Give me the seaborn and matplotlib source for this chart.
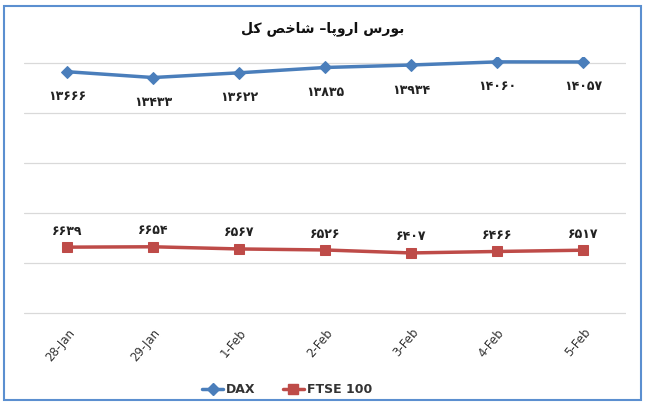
import matplotlib
matplotlib.use("Agg")
import matplotlib.pyplot as plt
from matplotlib.patches import Rectangle
from matplotlib.lines import Line2D
import seaborn as sns
import pandas as pd

# chart data
dates = ["28-Jan", "29-Jan", "1-Feb", "2-Feb", "3-Feb", "4-Feb", "5-Feb"]
dax = [13666, 13433, 13622, 13835, 13934, 14060, 14057]
ftse = [6639, 6654, 6567, 6526, 6407, 6466, 6517]
grid_values = [4000, 6000, 8000, 10000, 12000, 14000]

# "بورس اروپا– شاخص کل" written with presentation forms, then reversed
# because matplotlib has no RTL shaping of its own
title_logical = ("\uFE91\uFEEE\uFEAD\uFEB1 \uFE8D\uFEAD\uFEED\uFB58\uFE8E\u2013 "
                 "\uFEB7\uFE8E\uFEA7\uFEBA \uFB90\uFEDE")
title_text = title_logical[::-1]

persian_digits = str.maketrans("0123456789", "۰۱۲۳۴۵۶۷۸۹")


def fa(n):
    return str(n).translate(persian_digits)


df = pd.DataFrame({"date": dates, "x": range(len(dates)), "DAX": dax, "FTSE 100": ftse})

sns.set_style("white")
plt.rcParams["font.family"] = ["DejaVu Sans"]

fig = plt.figure(figsize=(6.52, 4.04), dpi=100)
ax = fig.add_axes([0.037, 0.2202, 0.923, 0.639])

dax_color = "#4A7EBB"
ftse_color = "#BE4B48"

sns.lineplot(data=df, x="x", y="DAX", ax=ax, color=dax_color, lw=2.5,
             marker="D", markersize=6, markeredgecolor=dax_color, zorder=3)
sns.lineplot(data=df, x="x", y="FTSE 100", ax=ax, color=ftse_color, lw=2.5,
             marker="s", markersize=7, markeredgecolor=ftse_color, zorder=3)

# data labels
for i, v in enumerate(dax):
    ax.annotate(fa(v), (i, v), xytext=(0, -18), textcoords="offset points",
                ha="center", va="center", fontsize=9, fontweight="bold",
                color="#222222")
for i, v in enumerate(ftse):
    ax.annotate(fa(v), (i, v), xytext=(0, 11.5), textcoords="offset points",
                ha="center", va="center", fontsize=9, fontweight="bold",
                color="#222222")

ax.set_xlim(-0.5, len(dates) - 0.5)
ax.set_ylim(3920, 14260)
for g in grid_values:
    ax.axhline(g, color="#D9D9D9", lw=0.9, zorder=0)

ax.set_yticks([])
ax.set_xticks(range(len(dates)))
ax.set_xticklabels(dates, rotation=50, ha="right", va="top",
                   rotation_mode="anchor", fontsize=8.5, color="#333333")
ax.tick_params(axis="x", length=0, pad=8)
ax.set_xlabel("")
ax.set_ylabel("")
for s in ax.spines.values():
    s.set_visible(False)

fig.text(0.495, 0.93, title_text, ha="center", va="center",
         fontsize=10, fontweight="bold", color="#111111")

handles = [
    Line2D([], [], color=dax_color, lw=2.5, marker="D", markersize=6),
    Line2D([], [], color=ftse_color, lw=2.5, marker="s", markersize=7),
]
fig.legend(handles, ["DAX", "FTSE 100"], loc="center",
           bbox_to_anchor=(0.44, 0.035), ncol=2, frameon=False,
           prop={"size": 9, "weight": "bold"}, labelcolor="#333333",
           handlelength=1.7, columnspacing=2.2, handletextpad=0.2)

fig.patches.append(Rectangle((0.006, 0.01), 0.977, 0.975, transform=fig.transFigure,
                             fill=False, edgecolor="#5B8FD0", lw=1.5))

fig.savefig("out.png", dpi=100)
